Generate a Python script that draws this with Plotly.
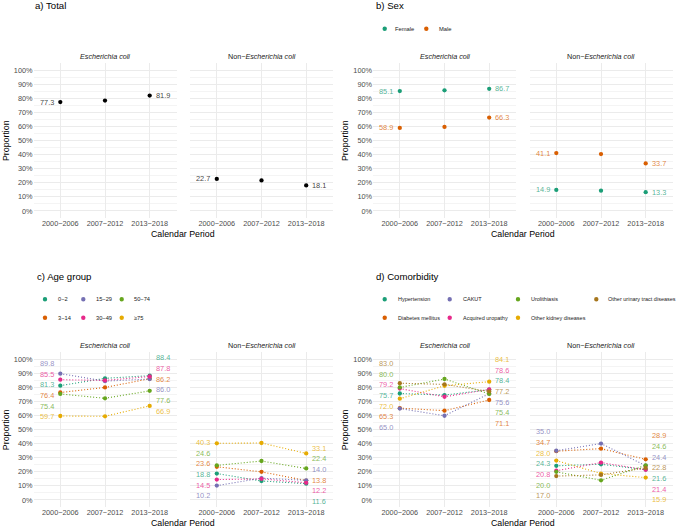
import plotly.graph_objects as go

W, H = 676, 528
FONT = "Liberation Sans"

# ---------------- data ----------------
periods = ["2000−2006", "2007−2012", "2013−2018"]
facet_names = ["<i>Escherichia coli</i>", "Non−<i>Escherichia coli</i>"]

# a) Total
total_groups = ["Total"]
total_ecoli = [77.3, 78.3, 81.9]
total_non = [22.7, 21.7, 18.1]

# b) Sex
sex_groups = ["Female", "Male"]
female_ecoli = [85.1, 85.6, 86.7]
female_non = [14.9, 14.4, 13.3]
male_ecoli = [58.9, 59.6, 66.3]
male_non = [41.1, 40.4, 33.7]

# c) Age group
age_groups = ["0−2", "3−14", "15−29", "30−49", "50−74", "≥75"]
age_0_2_ecoli = [81.3, 86.5, 88.4]
age_3_14_ecoli = [76.4, 80.0, 86.2]
age_15_29_ecoli = [89.8, 84.5, 86.0]
age_30_49_ecoli = [85.5, 85.0, 87.8]
age_50_74_ecoli = [75.4, 72.3, 77.6]
age_75_ecoli = [59.7, 59.5, 66.9]
age_0_2_non = [18.8, 13.5, 11.6]
age_3_14_non = [23.6, 20.0, 13.8]
age_15_29_non = [10.2, 15.5, 14.0]
age_30_49_non = [14.5, 15.0, 12.2]
age_50_74_non = [24.6, 27.7, 22.4]
age_75_non = [40.3, 40.5, 33.1]

# d) Comorbidity
com_groups = ["Hypertension", "Diabetes mellitus", "CAKUT", "Acquired uropathy",
              "Urolithiasis", "Other kidney diseases", "Other urinary tract diseases"]
hyp_ecoli = [75.7, 74.6, 78.4]
dia_ecoli = [65.3, 63.5, 71.1]
cakut_ecoli = [65.0, 59.9, 75.6]
acq_ecoli = [79.2, 73.4, 78.6]
uro_ecoli = [80.0, 86.0, 75.4]
okd_ecoli = [72.0, 81.2, 84.1]
outd_ecoli = [83.0, 82.2, 77.2]
hyp_non = [24.3, 25.4, 21.6]
dia_non = [34.7, 36.5, 28.9]
cakut_non = [35.0, 40.1, 24.4]
acq_non = [20.8, 26.6, 21.4]
uro_non = [20.0, 14.0, 24.6]
okd_non = [28.0, 18.8, 15.9]
outd_non = [17.0, 17.8, 22.8]

# ---------------- styling ----------------
DARK2 = ["#1B9E77", "#D95F02", "#7570B3", "#E7298A", "#66A61E", "#E6AB02", "#A6761D"]
GRID = "#EBEBEB"
MINOR = "#F4F4F4"
TICK_C = "#4D4D4D"


def hex_rgba(h, a):
    h = h.lstrip("#")
    return "rgba(%d,%d,%d,%.2f)" % (int(h[0:2], 16), int(h[2:4], 16), int(h[4:6], 16), a)


def X(px):
    return px / W


def Y(py):
    return 1 - py / H


def repel(vals, gap):
    """simple 1-D label repel: merge overlapping labels into evenly spaced clusters"""
    order = sorted(range(len(vals)), key=lambda i: -vals[i])
    clusters = []
    for i in order:
        clusters.append([i])
        while len(clusters) > 1:
            a, b = clusters[-2], clusters[-1]
            ca = sum(vals[k] for k in a) / len(a)
            cb = sum(vals[k] for k in b) / len(b)
            bot_a = ca - (len(a) - 1) / 2 * gap
            top_b = cb + (len(b) - 1) / 2 * gap
            if bot_a - top_b < gap:
                clusters[-2] = a + b
                clusters.pop()
            else:
                break
    pos = [0.0] * len(vals)
    for c in clusters:
        m = sum(vals[k] for k in c) / len(c)
        n = len(c)
        for j, k in enumerate(c):
            pos[k] = m + ((n - 1) / 2 - j) * gap
    return pos


panels = [
    dict(title="a) Total", groups=total_groups, colors=["#000000"],
         ecoli=[total_ecoli], non=[total_non], lines=False,
         fx=[(33.5, 176.5), (190, 333)], fy=(63, 218), legend=None),
    dict(title="b) Sex", groups=sex_groups, colors=DARK2[:2],
         ecoli=[female_ecoli, male_ecoli], non=[female_non, male_non], lines=False,
         fx=[(373, 516), (529.5, 672.5)], fy=(63, 218),
         legend=dict(y=[28.7], mx=[384.7, 426.3], tx=[393, 437], fs=5.8)),
    dict(title="c) Age group", groups=age_groups, colors=DARK2[:6],
         ecoli=[age_0_2_ecoli, age_3_14_ecoli, age_15_29_ecoli, age_30_49_ecoli, age_50_74_ecoli, age_75_ecoli],
         non=[age_0_2_non, age_3_14_non, age_15_29_non, age_30_49_non, age_50_74_non, age_75_non],
         lines=True, fx=[(33.5, 176.5), (190, 333)], fy=(352.3, 507),
         legend=dict(y=[299.3, 317.7], mx=[45, 83.3, 121.7], tx=[56, 94.3, 132.3], fs=5.7)),
    dict(title="d) Comorbidity", groups=com_groups, colors=DARK2[:7],
         ecoli=[hyp_ecoli, dia_ecoli, cakut_ecoli, acq_ecoli, uro_ecoli, okd_ecoli, outd_ecoli],
         non=[hyp_non, dia_non, cakut_non, acq_non, uro_non, okd_non, outd_non],
         lines=True, fx=[(373, 516), (529.5, 672.5)], fy=(352.3, 507),
         legend=dict(y=[299.3, 317.7], mx=[384.7, 449.7, 518, 596.3], tx=[395.5, 461, 528.5, 606], fs=5.5)),
]

title_pos = [(33, 6), (373.5, 6), (34.5, 276), (374, 276)]
ylab_x = [5.5, 344.5, 5.5, 344.5]

fig = go.Figure()
annotations = []
shapes = []
layout = {}
GAP = 7.6  # label spacing in % units

ax = 0
for p_i, p in enumerate(panels):
    fy0, fy1 = p["fy"]
    for f_i, series_set in enumerate([p["ecoli"], p["non"]]):
        ax += 1
        xs = "x" if ax == 1 else "x%d" % ax
        ys = "y" if ax == 1 else "y%d" % ax
        fx0, fx1 = p["fx"][f_i]
        layout["xaxis" if ax == 1 else "xaxis%d" % ax] = dict(
            domain=[X(fx0), X(fx1)], anchor=ys, type="category",
            categoryorder="array", categoryarray=periods, range=[-0.6, 2.6],
            showgrid=True, gridcolor=GRID, gridwidth=1, zeroline=False, showline=False,
            ticks="", tickfont=dict(family=FONT, size=7.3, color=TICK_C), fixedrange=True)
        layout["yaxis" if ax == 1 else "yaxis%d" % ax] = dict(
            domain=[Y(fy1), Y(fy0)], anchor=xs, range=[-5, 105],
            tickvals=list(range(0, 101, 10)), ticktext=["%d%%" % v for v in range(0, 101, 10)],
            showticklabels=(f_i == 0), showgrid=True, gridcolor=GRID, gridwidth=1,
            minor=dict(dtick=5, tick0=0, showgrid=True, gridcolor=MINOR, gridwidth=0.8),
            zeroline=False, showline=False, ticks="",
            tickfont=dict(family=FONT, size=7.3, color=TICK_C), fixedrange=True)
        # strip text
        annotations.append(dict(text=facet_names[f_i], xref="paper", yref="paper",
                                x=X((fx0 + fx1) / 2), y=Y(fy0 - 7), showarrow=False,
                                xanchor="center", yanchor="middle",
                                font=dict(family=FONT, size=7.2, color="#1A1A1A")))
        for g_i, vals in enumerate(series_set):
            col = p["colors"][g_i]
            fig.add_trace(go.Scatter(
                x=periods, y=vals, xaxis=xs, yaxis=ys,
                mode="lines+markers" if p["lines"] else "markers",
                line=dict(color=col, width=1.1, dash="1px,2px"),
                marker=dict(color=col, size=4.3, line=dict(width=0)),
                showlegend=False, hoverinfo="skip"))
        # labels for first and last period
        for c_i, side in [(0, -1), (2, 1)]:
            v = [s[c_i] for s in series_set]
            pos = repel(v, GAP)
            for g_i, s in enumerate(series_set):
                annotations.append(dict(
                    text="%.1f" % s[c_i], xref=xs, yref=ys, x=periods[c_i], y=pos[g_i],
                    showarrow=False, xanchor="right" if side < 0 else "left", yanchor="middle",
                    xshift=-4.5 if side < 0 else 4,
                    font=dict(family=FONT, size=7.4, color=hex_rgba(p["colors"][g_i], 0.78))))
    # axis titles
    fxl = p["fx"][0][0]
    fxr = p["fx"][1][1]
    annotations.append(dict(text="Calendar Period", xref="paper", yref="paper",
                            x=X((fxl + fxr) / 2), y=Y(fy1 + 15.5), showarrow=False,
                            xanchor="center", yanchor="middle",
                            font=dict(family=FONT, size=8.8, color="#000000")))
    annotations.append(dict(text="Proportion", xref="paper", yref="paper",
                            x=X(ylab_x[p_i]), y=Y((fy0 + fy1) / 2), showarrow=False,
                            textangle=-90, xanchor="center", yanchor="middle",
                            font=dict(family=FONT, size=8.8, color="#000000")))
    tx, ty = title_pos[p_i]
    annotations.append(dict(text=p["title"], xref="paper", yref="paper",
                            x=X(tx), y=Y(ty), showarrow=False, xanchor="left", yanchor="middle",
                            font=dict(family=FONT, size=9.6, color="#000000")))
    # legend
    lg = p["legend"]
    if lg:
        nrows = len(lg["y"])
        for g_i, g in enumerate(p["groups"]):
            col_i = g_i // nrows
            row_i = g_i % nrows
            mx = lg["mx"][col_i]
            my = lg["y"][row_i]
            shapes.append(dict(type="circle", xref="paper", yref="paper",
                               xsizemode="pixel", ysizemode="pixel",
                               xanchor=X(mx), yanchor=Y(my), x0=-2.2, x1=2.2, y0=-2.2, y1=2.2,
                               fillcolor=p["colors"][g_i], line=dict(width=0)))
            annotations.append(dict(text=g, xref="paper", yref="paper",
                                    x=X(lg["tx"][col_i]), y=Y(my), showarrow=False,
                                    xanchor="left", yanchor="middle",
                                    font=dict(family=FONT, size=lg["fs"], color="#1A1A1A")))

fig.update_layout(width=W, height=H, margin=dict(l=0, r=0, t=0, b=0),
                  paper_bgcolor="white", plot_bgcolor="white",
                  showlegend=False, annotations=annotations, shapes=shapes, **layout)

fig.write_html("out.html")
